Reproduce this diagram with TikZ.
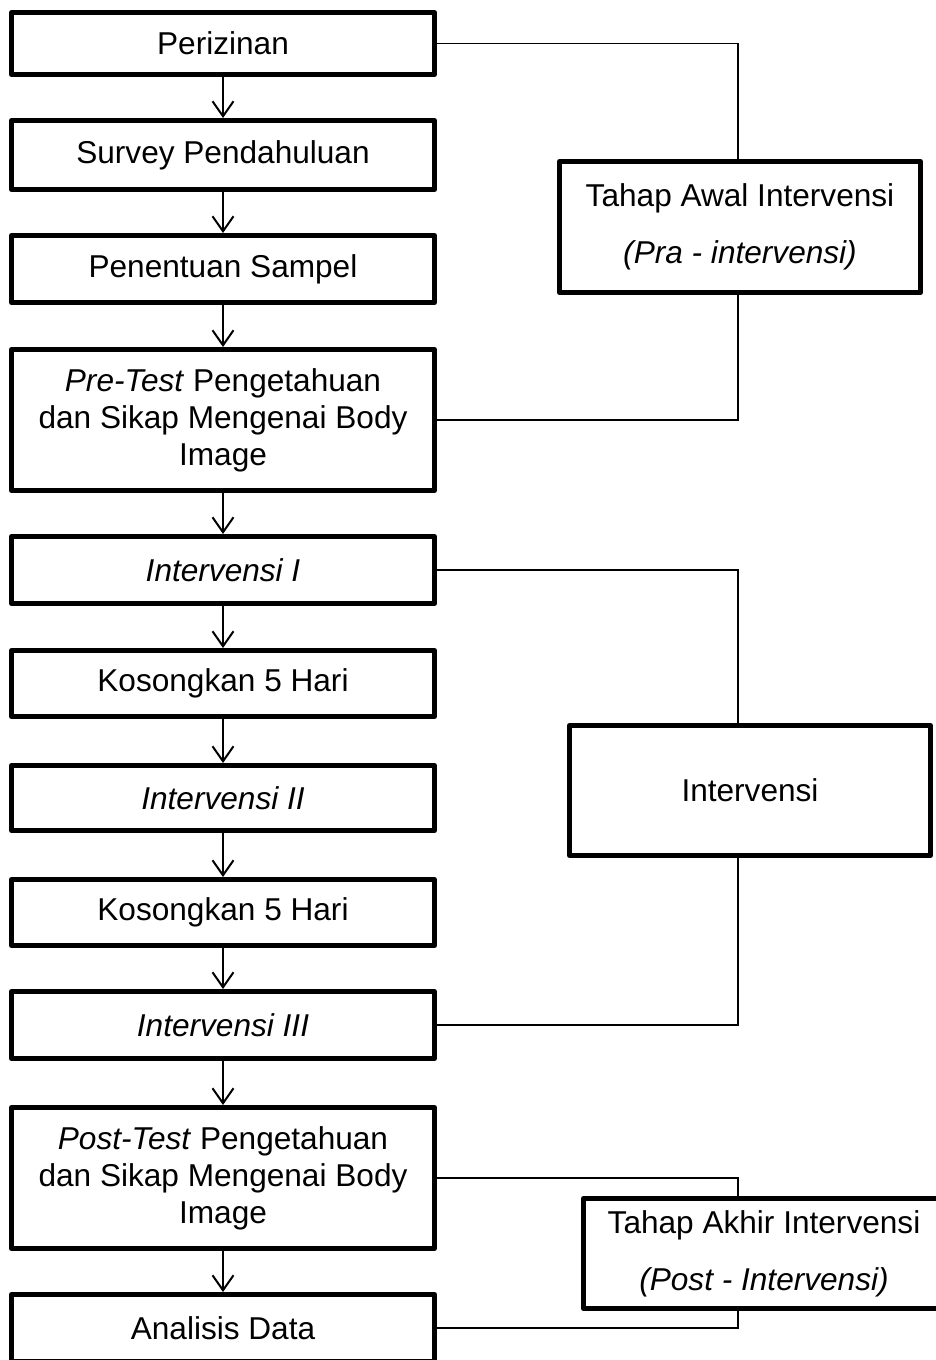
\documentclass[tikz,border=0pt]{standalone}
\usepackage{fontspec}
\setmainfont{Liberation Sans}
\usetikzlibrary{arrows.meta}

\begin{document}
\begin{tikzpicture}[x=0.5pt, y=-0.5pt,
                every node/.style = {draw, line width=2.5pt, line join=round, align=center, inner sep=0pt,
                                     font=\fontsize{15.8}{18.5}\selectfont},
                stepbox/.style = {minimum width=211.5pt, minimum height=33.5pt},
                bigbox/.style = {stepbox, minimum height=70.5pt},
                phasebox/.style = {minimum width=180.5pt, font=\fontsize{15.8}{28.5}\selectfont},
                flow/.style = {-{Straight Barb[length=7.5pt,width=10.5pt]}, line width=1pt},
                link/.style = {line width=0.75pt}
            ]
    \useasboundingbox (0,0) rectangle (936,1360);
    \clip (0,0) rectangle (936,1360);

    % left column
    \node[stepbox, minimum height=31pt] (izin) at (223,43.5) {Perizinan};
    \node[stepbox, minimum height=34.5pt] (survey) at (223,155) {Survey Pendahuluan};
    \node[stepbox] (sampel) at (223,269) {Penentuan Sampel};
    \node[bigbox] (pretest) at (223,420) {\textit{Pre-Test} Pengetahuan\\dan Sikap Mengenai Body\\Image};
    \node[stepbox] (intI) at (223,570) {\textit{Intervensi I}};
    \node[stepbox, minimum height=33pt] (kosI) at (223,683.5) {Kosongkan 5 Hari};
    \node[stepbox, minimum height=32.5pt] (intII) at (223,798) {\textit{Intervensi II}};
    \node[stepbox, minimum height=33pt] (kosII) at (223,912.5) {Kosongkan 5 Hari};
    \node[stepbox] (intIII) at (223,1025) {\textit{Intervensi III}};
    \node[bigbox] (posttest) at (223,1178) {\textit{Post-Test} Pengetahuan\\dan Sikap Mengenai Body\\Image};
    \node[stepbox] (analisis) at (223,1328) {Analisis Data};

    % right column
    \node[phasebox, minimum height=65.5pt] (awal) at (740,227) {Tahap Awal Intervensi\\\textit{(Pra - intervensi)}};
    \node[phasebox, minimum height=65pt] (interv) at (750,790.5) {Intervensi};
    \node[phasebox, minimum height=55pt] (akhir) at (764,1253.5) {Tahap Akhir Intervensi\\\textit{(Post - Intervensi)}};
    \coordinate (rail) at (738,0);

    \foreach \a/\b in {izin/survey, survey/sampel, sampel/pretest, pretest/intI, intI/kosI,
                       kosI/intII, intII/kosII, kosII/intIII, intIII/posttest, posttest/analisis}
        \draw[flow] (\a) -- (\b);

    \draw[link] (izin.east) -| (rail |- awal.north);
    \draw[link] (pretest.east) -| (rail |- awal.south);
    \draw[link] (intI.east) -| (rail |- interv.north);
    \draw[link] (intIII.east) -| (rail |- interv.south);
    \draw[link] (posttest.east) -| (rail |- akhir.north);
    \draw[link] (analisis.east) -| (rail |- akhir.south);
\end{tikzpicture}
\end{document}
